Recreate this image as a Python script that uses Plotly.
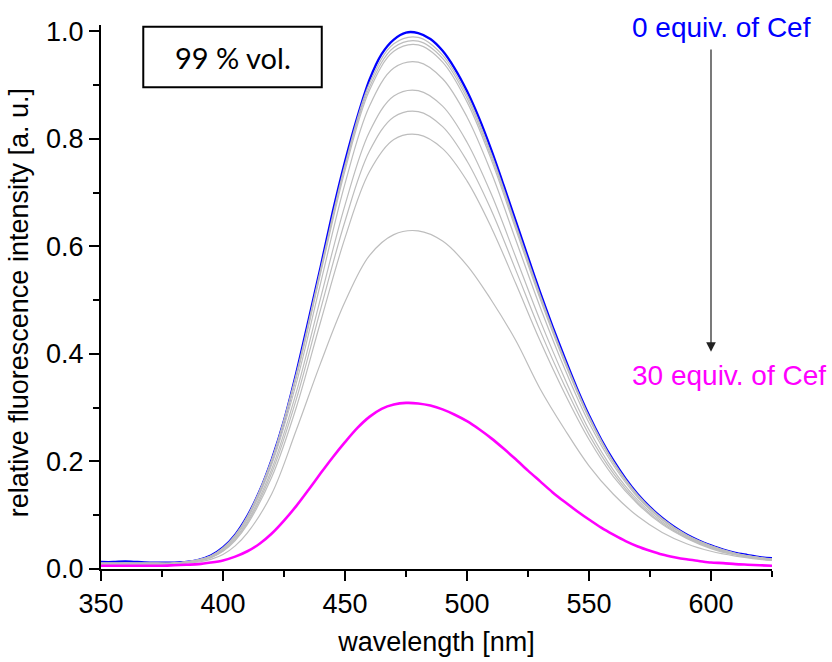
import plotly.graph_objects as go

# Emission wavelengths (nm)
wl_fine = list(range(350, 626, 5))
wl = [350, 360, 370, 380, 390, 395, 400, 405, 410, 420, 430, 440, 450, 460, 470,
      480, 490, 500, 510, 520, 530, 540, 550, 560, 570, 580, 590, 600, 610, 620, 625]

# 0 equiv. of Cef (blue reference spectrum)
em_0eq = [0.013, 0.013, 0.014, 0.013, 0.012, 0.012, 0.012, 0.013, 0.017, 0.025,
          0.040, 0.064, 0.099, 0.145, 0.204, 0.276, 0.364, 0.462, 0.562, 0.665,
          0.758, 0.840, 0.910, 0.958, 0.985, 0.998, 0.997, 0.986, 0.964, 0.931,
          0.889, 0.838, 0.779, 0.714, 0.647, 0.580, 0.514, 0.452, 0.393, 0.337,
          0.286, 0.241, 0.202, 0.168, 0.139, 0.115, 0.095, 0.078, 0.064, 0.053,
          0.044, 0.036, 0.030, 0.026, 0.022, 0.020]

# 30 equiv. of Cef (final titration point)
em_30eq = [0.006, 0.006, 0.006, 0.006, 0.006, 0.006, 0.007, 0.008, 0.009, 0.012,
           0.016, 0.023, 0.033, 0.047, 0.066, 0.090, 0.117, 0.147, 0.178, 0.208,
           0.236, 0.262, 0.283, 0.298, 0.306, 0.309, 0.308, 0.304, 0.297, 0.287,
           0.275, 0.260, 0.243, 0.224, 0.204, 0.183, 0.163, 0.143, 0.125, 0.108,
           0.092, 0.077, 0.064, 0.052, 0.042, 0.034, 0.027, 0.022, 0.018, 0.015,
           0.012, 0.011, 0.009, 0.008, 0.007, 0.006]

# Intermediate additions of Cef (grey spectra)
gray_1 = [0.011, 0.011, 0.011, 0.011, 0.017, 0.024, 0.039, 0.063, 0.098, 0.204,
          0.362, 0.558, 0.752, 0.903, 0.977, 0.989, 0.956, 0.882, 0.772, 0.641,
          0.510, 0.390, 0.284, 0.200, 0.138, 0.094, 0.063, 0.043, 0.029, 0.021, 0.019]
gray_2 = [0.011, 0.011, 0.011, 0.011, 0.017, 0.024, 0.039, 0.062, 0.097, 0.203,
          0.359, 0.554, 0.747, 0.896, 0.970, 0.982, 0.950, 0.876, 0.767, 0.637,
          0.506, 0.387, 0.282, 0.199, 0.137, 0.093, 0.063, 0.043, 0.029, 0.021, 0.018]
gray_3 = [0.011, 0.011, 0.011, 0.011, 0.017, 0.024, 0.038, 0.062, 0.096, 0.201,
          0.356, 0.550, 0.741, 0.890, 0.963, 0.975, 0.943, 0.869, 0.761, 0.632,
          0.502, 0.384, 0.280, 0.198, 0.136, 0.093, 0.062, 0.042, 0.028, 0.021, 0.018]
gray_4 = [0.010, 0.010, 0.010, 0.011, 0.016, 0.023, 0.037, 0.060, 0.093, 0.195,
          0.345, 0.532, 0.717, 0.861, 0.932, 0.943, 0.912, 0.841, 0.737, 0.612,
          0.487, 0.373, 0.272, 0.193, 0.133, 0.091, 0.061, 0.041, 0.028, 0.020, 0.018]
gray_5 = [0.010, 0.010, 0.010, 0.011, 0.016, 0.022, 0.035, 0.057, 0.089, 0.186,
          0.328, 0.504, 0.677, 0.813, 0.880, 0.890, 0.861, 0.794, 0.697, 0.580,
          0.462, 0.355, 0.259, 0.184, 0.128, 0.088, 0.059, 0.040, 0.027, 0.020, 0.017]
gray_6 = [0.010, 0.010, 0.010, 0.010, 0.015, 0.021, 0.034, 0.055, 0.086, 0.179,
          0.315, 0.483, 0.647, 0.777, 0.841, 0.851, 0.823, 0.759, 0.667, 0.556,
          0.443, 0.341, 0.250, 0.178, 0.124, 0.085, 0.058, 0.039, 0.027, 0.019, 0.017]
gray_7 = [0.010, 0.010, 0.010, 0.010, 0.015, 0.021, 0.033, 0.053, 0.083, 0.171,
          0.300, 0.460, 0.616, 0.739, 0.799, 0.808, 0.782, 0.722, 0.635, 0.531,
          0.424, 0.327, 0.241, 0.172, 0.121, 0.083, 0.057, 0.038, 0.026, 0.019, 0.017]
gray_8 = [0.009, 0.009, 0.009, 0.010, 0.013, 0.018, 0.027, 0.043, 0.067, 0.140,
          0.258, 0.383, 0.497, 0.583, 0.622, 0.629, 0.610, 0.565, 0.500, 0.425,
          0.335, 0.260, 0.192, 0.139, 0.098, 0.068, 0.047, 0.033, 0.024, 0.018, 0.016]
gray_spectra = [gray_1, gray_2, gray_3, gray_4, gray_5, gray_6, gray_7, gray_8]

x_ticks = [350, 400, 450, 500, 550, 600]
y_ticks = [0.0, 0.2, 0.4, 0.6, 0.8, 1.0]

FONT = "Liberation Sans, Arial, sans-serif"
BLUE = "#0000FF"
MAGENTA = "#FF00FF"
GREY = "#BDBDBD"

fig = go.Figure()

fig.add_trace(go.Scatter(x=wl_fine, y=em_0eq, mode="lines",
                         line=dict(color=BLUE, width=2.3, shape="spline", smoothing=0.8),
                         showlegend=False, hoverinfo="skip"))
for g in gray_spectra:
    fig.add_trace(go.Scatter(x=wl, y=g, mode="lines",
                             line=dict(color=GREY, width=1.2, shape="spline", smoothing=1.0),
                             showlegend=False, hoverinfo="skip"))
fig.add_trace(go.Scatter(x=wl_fine, y=em_30eq, mode="lines",
                         line=dict(color=MAGENTA, width=2.6, shape="spline", smoothing=0.8),
                         showlegend=False, hoverinfo="skip"))

axis_common = dict(
    showline=True, linecolor="black", linewidth=2,
    ticks="outside", ticklen=10, tickwidth=2, tickcolor="black",
    showgrid=False, zeroline=False, mirror=False,
    tickfont=dict(family=FONT, size=27, color="black"),
)

fig.update_xaxes(
    range=[350, 625], tickvals=x_ticks,
    minor=dict(ticks="outside", ticklen=6, tickwidth=2, tickcolor="black", dtick=25, tick0=350),
    title=dict(text="wavelength [nm]", font=dict(family=FONT, size=27, color="black"), standoff=14),
    **axis_common,
)
fig.update_yaxes(
    range=[0, 1.012], tickvals=y_ticks, tickformat=".1f",
    minor=dict(ticks="outside", ticklen=6, tickwidth=2, tickcolor="black", dtick=0.1, tick0=0),
    **axis_common,
)

# Y-axis title, placed as rotated text beside the tick labels
fig.add_annotation(text="relative fluorescence intensity [a. u.]", xref="paper", yref="paper",
                   x=-0.121, y=0.49, xanchor="center", yanchor="middle", textangle=-90,
                   showarrow=False, font=dict(family=FONT, size=27, color="black"))

# Solvent label box
fig.add_shape(type="rect", xref="paper", yref="paper",
              x0=0.063, x1=0.329, y0=0.8855, y1=0.9969,
              line=dict(color="black", width=2), fillcolor="white", layer="above")
fig.add_annotation(text="99 % vol.", xref="paper", yref="paper",
                   x=0.196, y=0.941, xanchor="center", yanchor="middle", showarrow=False,
                   font=dict(family="Lato, Open Sans, sans-serif", size=29, color="black"))

# Titration direction
fig.add_annotation(x=600, y=0.404, ax=600, ay=0.969, xref="x", yref="y",
                   axref="x", ayref="y", text="", showarrow=True,
                   arrowhead=2, arrowsize=1.6, arrowwidth=1.2, arrowcolor="#222222",
                   standoff=0)
fig.add_annotation(text="0 equiv. of Cef", xref="paper", yref="paper",
                   x=1.061, y=0.996, xanchor="right", yanchor="middle", showarrow=False,
                   font=dict(family=FONT, size=28, color=BLUE))
fig.add_annotation(text="30 equiv. of Cef", xref="paper", yref="paper",
                   x=1.0835, y=0.355, xanchor="right", yanchor="middle", showarrow=False,
                   font=dict(family=FONT, size=28, color=MAGENTA))

fig.update_layout(
    width=832, height=662,
    margin=dict(l=101, r=60, t=25, b=93, autoexpand=False),
    plot_bgcolor="white", paper_bgcolor="white",
    font=dict(family=FONT, color="black"),
)

fig.write_html("out.html")
